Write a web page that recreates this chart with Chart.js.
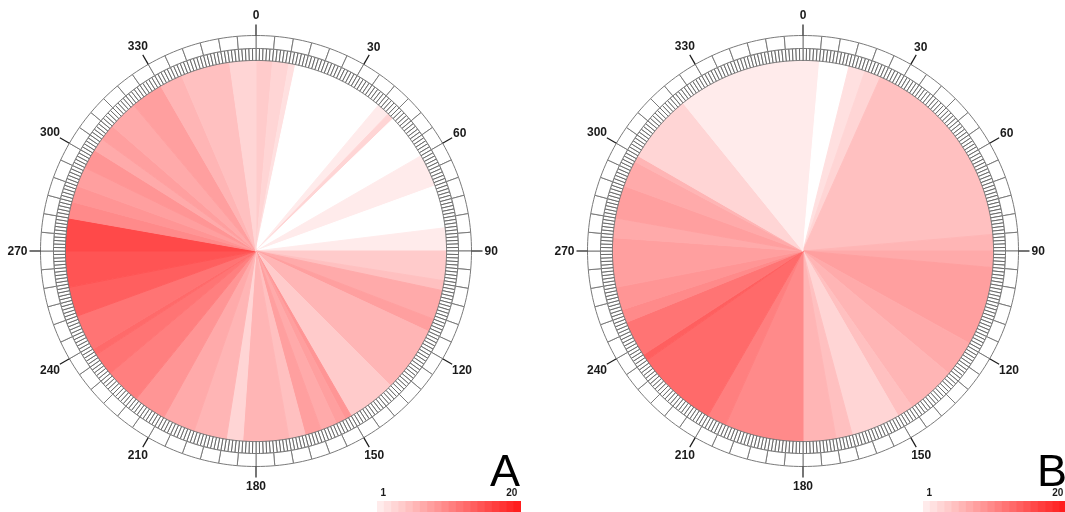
<!DOCTYPE html>
<html><head><meta charset="utf-8">
<script src="https://cdn.jsdelivr.net/npm/chart.js@4.4.1/dist/chart.umd.min.js"></script>
<style>
html,body{margin:0;padding:0;background:#fff;width:1065px;height:512px;overflow:hidden;position:relative;font-family:"Liberation Sans",Arial,sans-serif}
.pie{position:absolute;width:520px;height:512px}
.leg{position:absolute;width:144px;height:34px}
.letter{position:absolute;font-family:"Liberation Sans",Arial,sans-serif;font-size:45px;line-height:45px;color:#000}
</style></head><body>
<div class="pie" id="pa" style="left:-4px;top:-5px"><canvas id="ca"></canvas></div>
<div class="pie" id="pb" style="left:543px;top:-5px"><canvas id="cb"></canvas></div>
<div class="leg" style="left:377px;top:483px"><canvas id="la"></canvas></div>
<div class="leg" style="left:923px;top:483px"><canvas id="lb"></canvas></div>
<div class="letter" style="left:490px;top:448px">A</div>
<div class="letter" style="left:1037px;top:448px">B</div>
<script>
// ---- data: angular bins (degrees, clockwise from north) and colour level (0 = none, 1..20) ----
const aEdges  = [0,5,10,12,40,44,46,60,70,83,90,99,102,111,115,135,150,152,155,160,165,170,184,189,199,209,219,230,237,239,250,259,270,280,285,290,296,302,306,311,320,330,337,352,360];
const aLevels = [4,3,2,0,1,3,0,1,0,1,4,5,7,8,6,4,9,8,7,8,5,6,3,6,7,9,11,12,13,12,14,15,16,10,9,8,9,7,8,7,8,6,5,3];
const bEdges  = [0,5,14,19,24,85,90,95,119,130,145,150,165,170,180,204,210,235,237,248,252,259,274,280,290,298,300,321,360];
const bLevels = [1,0,2,3,5,6,7,8,7,6,5,3,5,6,10,11,13,14,12,10,9,8,7,8,7,6,3,1];
const angleTicks  = [0,30,60,90,120,150,180,210,240,270,300,330];
const angleLabels = ['0','30','60','90','120','150','180','210','240','270','300','330'];
const legendLevels = [1,2,3,4,5,6,7,8,9,10,11,12,13,14,15,16,17,18,19,20];
const legendLabels = ['1','','','','','','','','','','','','','','','','','','','20'];
const fineTicks = 360;   // 1-degree ticks
const boxTicks = 72;     // 5-degree boxes

function levelColor(v){
  if(v<=0) return '#ffffff';
  const g = Math.round(235 - (v-1)*(205/19));
  return 'rgb(255,'+g+','+g+')';
}
function widths(edges){ const w=[]; for(let i=0;i<edges.length-1;i++) w.push(edges[i+1]-edges[i]); return w; }

const angleLabelPlugin = {
  id:'angleLabels',
  afterDatasetsDraw(chart){
    const arc = chart.getDatasetMeta(0).data[0];
    const cx=arc.x, cy=arc.y, R=arc.outerRadius;
    const ctx=chart.ctx;
    ctx.save();
    ctx.strokeStyle='#1a1a1a'; ctx.lineWidth=1.2;
    ctx.font='bold 12px "Liberation Sans", Arial, sans-serif';
    ctx.fillStyle='#1a1a1a'; ctx.textAlign='center'; ctx.textBaseline='middle';
    angleTicks.forEach((a,i)=>{
      const t=a*Math.PI/180, s=Math.sin(t), c=-Math.cos(t);
      ctx.beginPath(); ctx.moveTo(cx+s*R, cy+c*R); ctx.lineTo(cx+s*(R+11), cy+c*(R+11)); ctx.stroke();
      const w=ctx.measureText(angleLabels[i]).width;
      const ext=Math.sqrt(Math.pow((w/2+2)*s,2)+Math.pow(9*c,2));
      const d=R+11+ext;
      ctx.fillText(angleLabels[i], cx+s*d, cy+c*d+0.5);
    });
    ctx.restore();
  }
};

function makePie(id, edges, levels){
  const cols = levels.map(levelColor);
  new Chart(document.getElementById(id), {
    type:'doughnut',
    data:{
      labels: edges.slice(0,-1).map(String),
      datasets:[
        {data:new Array(boxTicks).fill(1), backgroundColor:'#ffffff', borderColor:'#7a7a7a', borderWidth:1, weight:13},
        {data:new Array(fineTicks).fill(1), backgroundColor:'#ffffff', borderColor:'#6a6a6a', borderWidth:1, weight:12},
        {data:widths(edges), backgroundColor:cols, borderColor:cols, borderWidth:1, weight:191}
      ]
    },
    options:{
      responsive:true, maintainAspectRatio:false, animation:false, events:[],
      cutout:0, devicePixelRatio:1,
      layout:{padding:{left:44,right:44,top:40,bottom:40}},
      plugins:{legend:{display:false}, tooltip:{enabled:false}}
    },
    plugins:[angleLabelPlugin]
  });
}
makePie('ca', aEdges, aLevels);
makePie('cb', bEdges, bLevels);

function makeLegend(id){
  new Chart(document.getElementById(id), {
    type:'bar',
    data:{labels:legendLevels.map(String), datasets:[{data:legendLevels.map(()=>1), backgroundColor:legendLevels.map(levelColor), barPercentage:1, categoryPercentage:1, borderWidth:0}]},
    options:{
      responsive:true, maintainAspectRatio:false, animation:false, events:[], devicePixelRatio:1,
      layout:{padding:{top:2,left:0,right:0,bottom:0}},
      plugins:{legend:{display:false}, tooltip:{enabled:false}},
      scales:{
        x:{position:'top', offset:true, grid:{display:false, drawTicks:false}, border:{display:false},
           ticks:{autoSkip:false, maxRotation:0, minRotation:0, align:'inner', padding:2, color:'#1a1a1a',
                  font:{family:'"Liberation Sans", Arial, sans-serif', size:10, weight:'bold'},
                  callback:(v,i)=>legendLabels[i]}},
        y:{display:false, min:0, max:1}
      }
    }
  });
}
makeLegend('la');
makeLegend('lb');
</script>
</body></html>
